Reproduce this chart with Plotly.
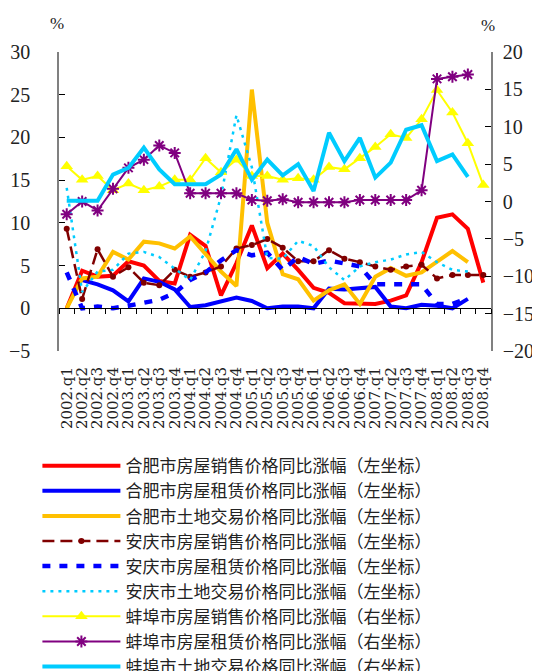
import plotly.graph_objects as go

quarters = [f"{y}.q{q}" for y in range(2002, 2009) for q in range(1, 5)]

hefei_sales = [0, 4.4, 3.7, 3.8, 5.5, 5.0, 3.2, 2.9, 8.6, 7.3, 1.5, 5.3, 9.7, 4.7,
               6.4, 4.5, 2.4, 1.8, 0.6, 0.5, 0.5, 0.9, 1.5, 5.4, 10.6, 11.0, 9.3, 3.0]
hefei_rent = [None, 3.3, 2.8, 2.1, 0.8, 3.5, 3.1, 2.2, 0.15, 0.35, 0.85, 1.25, 0.85, 0.0,
              0.2, 0.2, 0.0, 2.3, 2.2, 2.3, 2.5, 0.2, 0.0, 0.4, 0.3, 0.0, 1.1, None]
hefei_land = [0, 3.5, 3.7, 6.6, 5.7, 7.8, 7.6, 7.0, 8.4, 6.3, 4.3, 2.6, 25.6, 10.0,
              4.0, 3.4, 0.9, 2.1, 2.8, 0.5, 3.7, 4.7, 3.8, 4.2, 5.5, 6.7, 5.4, None]
anqing_sales = [9.3, 1.1, 6.9, 3.7, 4.8, 3.0, 2.7, 4.5, 3.7, 4.2, 4.9, 7.0, 7.4, 8.1,
                7.1, 5.5, 5.5, 6.8, 5.8, 5.4, 4.9, 4.5, 4.9, 5.1, 3.5, 3.9, 3.9, 3.9]
anqing_rent = [4.2, 0.0, 0.2, 0.0, 0.3, 0.6, 1.0, 1.8, 3.3, 4.2, 5.6, 6.8, 6.2, 6.5,
               4.5, 6.0, 5.2, 5.6, 5.3, 4.9, 2.8, 2.8, 2.8, 2.8, 0.5, 0.5, 1.2, None]
anqing_land = [14.1, 1.9, 4.3, 4.5, 6.4, 6.6, 6.0, 4.7, 3.3, 6.7, 13.1, 22.6, 16.5, 5.9,
               5.8, 7.9, 7.3, 4.8, 3.3, 4.9, 5.4, 5.7, 6.3, 6.6, 5.4, 4.5, 4.3, None]
bengbu_sales = [4.7, 2.9, 3.4, 1.5, 2.4, 1.5, 2.0, 2.9, 2.9, 5.8, 3.9, 5.6, 3.4, 3.4,
                2.9, 3.1, 2.9, 4.6, 4.3, 5.8, 7.3, 9.0, 8.5, 11.0, 14.9, 11.9, 7.8, 2.2]
bengbu_rent = [-1.7, 0.0, -1.2, 1.7, 4.5, 5.6, 7.5, 6.5, 1.1, 1.1, 1.1, 1.1, 0.2, 0.1,
               0.3, -0.1, -0.1, -0.1, -0.1, 0.2, 0.2, 0.2, 0.2, 1.5, 16.4, 16.7, 17.0, None]
bengbu_land = [0.1, 0.1, 0.1, 3.6, 4.5, 7.2, 4.3, 2.3, 2.3, 2.3, 3.6, 7.0, 2.9, 5.6,
               3.5, 5.0, 1.4, 9.2, 5.4, 8.5, 3.2, 5.2, 9.6, 10.2, 5.4, 6.3, 3.3, None]

names = [
    "合肥市房屋销售价格同比涨幅（左坐标）",
    "合肥市房屋租赁价格同比涨幅（左坐标）",
    "合肥市土地交易价格同比涨幅（左坐标）",
    "安庆市房屋销售价格同比涨幅（左坐标）",
    "安庆市房屋租赁价格同比涨幅（左坐标）",
    "安庆市土地交易价格同比涨幅（左坐标）",
    "蚌埠市房屋销售价格同比涨幅（右坐标）",
    "蚌埠市房屋租赁价格同比涨幅（右坐标）",
    "蚌埠市土地交易价格同比涨幅（右坐标）",
]

fig = go.Figure()

left = [
    (hefei_sales, dict(color="#FF0000", width=4), None),
    (hefei_rent, dict(color="#0000FF", width=4), None),
    (hefei_land, dict(color="#FFC000", width=4), None),
    (anqing_sales, dict(color="#800000", width=2.5, dash="12px,6px"), dict(symbol="circle", size=6, color="#800000")),
    (anqing_rent, dict(color="#0000FF", width=4.5, dash="8px,9px"), None),
    (anqing_land, dict(color="#00CCFF", width=2.5, dash="3px,5px"), None),
]
for i, (vals, ln, mk) in enumerate(left):
    fig.add_trace(go.Scatter(
        x=quarters, y=vals, name=names[i], xaxis="x", yaxis="y",
        mode="lines+markers" if mk else "lines", line=ln, marker=mk,
        connectgaps=False))

right = [
    (bengbu_sales, dict(color="#FFFF00", width=2), dict(symbol="triangle-up", size=11, color="#FFFF00")),
    (bengbu_rent, dict(color="#800080", width=2), dict(symbol="asterisk-open", size=10, color="#800080", line=dict(width=2, color="#800080"))),
    (bengbu_land, dict(color="#00CCFF", width=4), None),
]
for j, (vals, ln, mk) in enumerate(right):
    fig.add_trace(go.Scatter(
        x=quarters, y=vals, name=names[6 + j], xaxis="x2", yaxis="y2",
        mode="lines+markers" if mk else "lines", line=ln, marker=mk))

tickfont = dict(family="Liberation Serif", size=20, color="#222")

# page body adds an 8px offset, so margins are shifted accordingly
fig.update_layout(
    width=540, height=671,
    margin=dict(l=51, r=57, t=44, b=328, autoexpand=False),
    paper_bgcolor="white", plot_bgcolor="white",
    showlegend=True,
    legend=dict(x=-0.05, y=-0.325, xanchor="left", yanchor="top",
                font=dict(family="Noto Sans CJK SC", size=17, color="#222"),
                itemwidth=78, tracegroupgap=0, bgcolor="rgba(0,0,0,0)"),
    xaxis=dict(type="category", categoryorder="array", categoryarray=quarters,
               range=[-0.5, 27.5], anchor="y", showline=False, showgrid=False,
               ticks="", tickangle=-90, ticklabelstandoff=12,
               tickmode="array", tickvals=quarters, ticktext=quarters,
               tickfont=dict(family="DejaVu Serif", size=15, color="#222")),
    xaxis2=dict(type="category", categoryorder="array", categoryarray=quarters,
                range=[-0.5, 27.5], overlaying="x", anchor="free", position=1/7,
                showline=True, linecolor="#000", linewidth=1, showgrid=False,
                ticks="outside", tickson="boundaries", ticklen=5, tickcolor="#000",
                showticklabels=False),
    yaxis=dict(range=[-5, 30], dtick=5, ticks="inside", ticklen=6, tickcolor="#000",
               showline=True, linecolor="#808080", linewidth=1.5, showgrid=False,
               zeroline=False, tickfont=tickfont, ticklabelstandoff=23),
    yaxis2=dict(range=[-20, 20], dtick=5, overlaying="y", side="right", anchor="x",
                ticks="inside", ticklen=6, tickcolor="#000",
                showline=True, linecolor="#808080", linewidth=1.5, showgrid=False,
                zeroline=False, tickfont=tickfont, ticklabelstandoff=6),
)
fig.add_annotation(text="%", xref="paper", yref="paper", x=(57 - 59) / 432, y=(351 - 23) / 299,
                   xanchor="center", yanchor="middle",
                   showarrow=False, font=dict(family="Liberation Serif", size=17, color="#222"))
fig.add_annotation(text="%", xref="paper", yref="paper", x=(488 - 59) / 432, y=(351 - 25) / 299,
                   xanchor="center", yanchor="middle",
                   showarrow=False, font=dict(family="Liberation Serif", size=17, color="#222"))

fig.write_html("out.html")
